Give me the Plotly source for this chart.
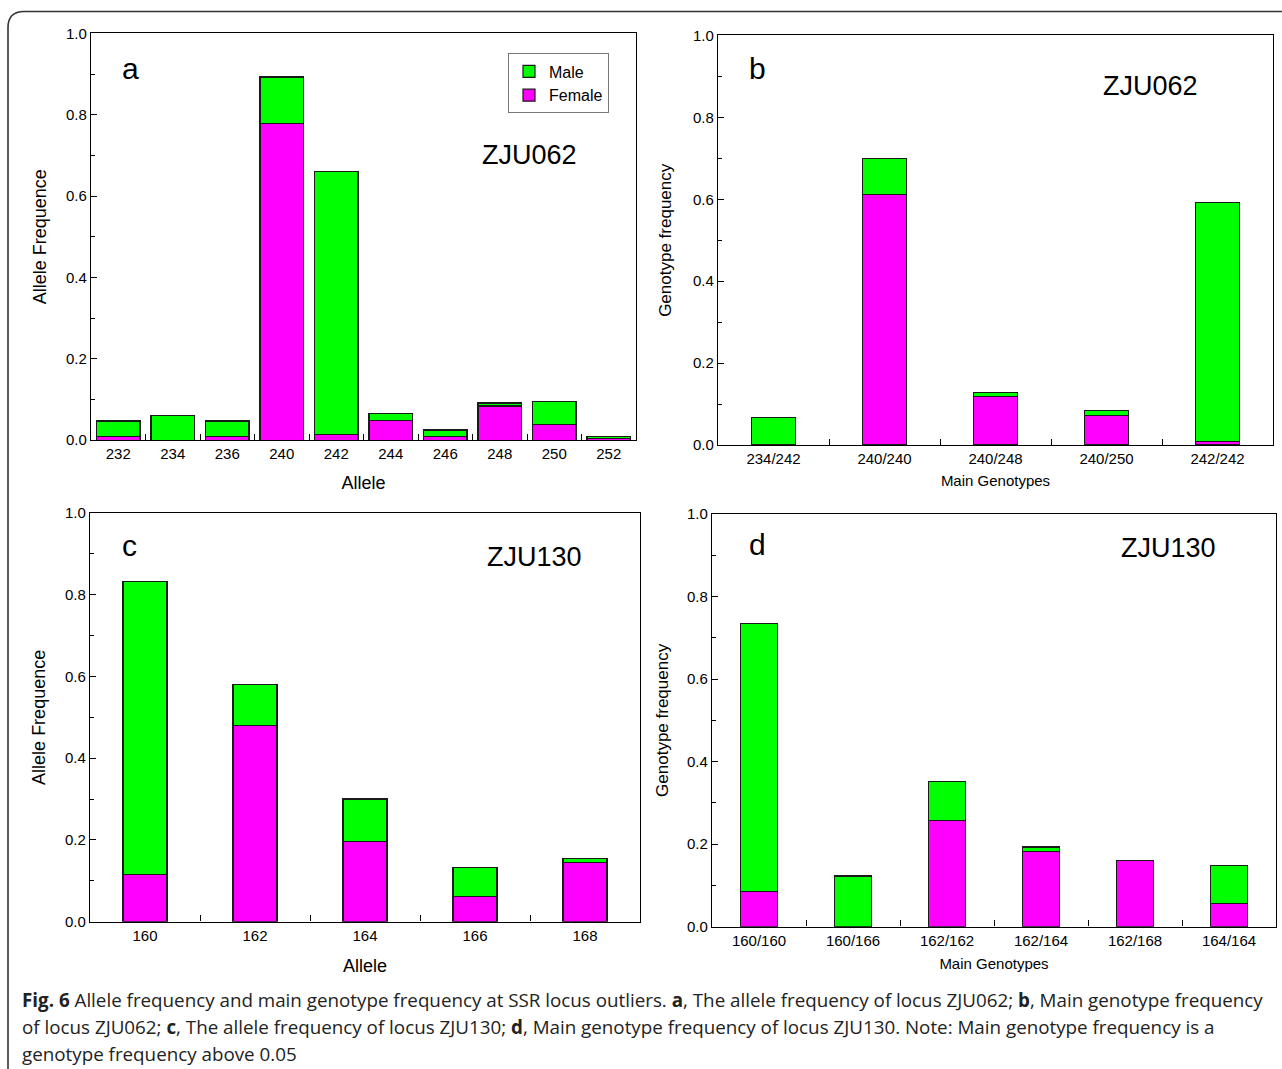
import plotly.graph_objects as go

W, H = 1282, 1069
# measured vertical mapping of the photographed page: shown_y = OY + SY * figure_y
SY = 0.985
OY = 8.5

# ---------------- data ----------------
alleles_a = ["232", "234", "236", "240", "242", "244", "246", "248", "250", "252"]
female_a = [0.009, 0.000, 0.009, 0.779, 0.013, 0.049, 0.009, 0.084, 0.039, 0.004]
male_a = [0.038, 0.060, 0.038, 0.114, 0.648, 0.017, 0.016, 0.007, 0.055, 0.005]

genotypes_b = ["234/242", "240/240", "240/248", "240/250", "242/242"]
female_b = [0.000, 0.611, 0.118, 0.072, 0.009]
male_b = [0.067, 0.088, 0.010, 0.012, 0.583]

alleles_c = ["160", "162", "164", "166", "168"]
female_c = [0.115, 0.480, 0.197, 0.061, 0.144]
male_c = [0.718, 0.100, 0.103, 0.072, 0.010]

genotypes_d = ["160/160", "160/166", "162/162", "162/164", "162/168", "164/164"]
female_d = [0.085, 0.000, 0.258, 0.182, 0.161, 0.056]
male_d = [0.649, 0.123, 0.093, 0.011, 0.000, 0.092]

ytick_vals = [0.0, 0.2, 0.4, 0.6, 0.8, 1.0]
ytick_text = ["0.0", "0.2", "0.4", "0.6", "0.8", "1.0"]

GREEN = "#00FF00"
MAGENTA = "#FF00FF"
FONT = "Liberation Sans, Arial, sans-serif"


def fx(px):
    return px / W


def fy(py):
    return 1 - ((py - OY) / SY) / H


panels = [
    dict(cats=alleles_a, fem=female_a, male=male_a, width=0.8,
         box=(91, 636, 33, 440), xtitle="Allele", xts=18, ytitle="Allele Frequence", yts=18,
         letter="a", letter_pos=(130, 68), locus="ZJU062", locus_pos=(529, 155), legend=True,
         xstand=15, ystand=14),
    dict(cats=genotypes_b, fem=female_b, male=male_b, width=0.4,
         box=(718, 1273, 35, 445), xtitle="Main Genotypes", xts=15, ytitle="Genotype frequency", yts=17,
         letter="b", letter_pos=(757, 68), locus="ZJU062", locus_pos=(1150, 86), legend=False,
         xstand=9, ystand=16),
    dict(cats=alleles_c, fem=female_c, male=male_c, width=0.4,
         box=(90, 640, 513, 922), xtitle="Allele", xts=18, ytitle="Allele Frequence", yts=18,
         letter="c", letter_pos=(129, 545), locus="ZJU130", locus_pos=(534, 557), legend=False,
         xstand=16, ystand=14),
    dict(cats=genotypes_d, fem=female_d, male=male_d, width=0.4,
         box=(712, 1276, 514, 927), xtitle="Main Genotypes", xts=15, ytitle="Genotype frequency", yts=17,
         letter="d", letter_pos=(757, 544), locus="ZJU130", locus_pos=(1168, 548), legend=False,
         xstand=10, ystand=13),
]

fig = go.Figure()
layout = dict(
    width=W, height=H,
    margin=dict(l=0, r=0, t=0, b=0),
    paper_bgcolor="white", plot_bgcolor="white",
    barmode="stack",
    font=dict(family=FONT, color="black"),
    showlegend=True,
    legend=dict(x=fx(609), xanchor="right", y=fy(53), yanchor="top",
                bordercolor="#777", borderwidth=1, bgcolor="white",
                font=dict(size=16, family=FONT), traceorder="reversed",
                tracegroupgap=0),
)
annotations = []

for i, p in enumerate(panels):
    n = i + 1
    xa = "x" if n == 1 else f"x{n}"
    ya = "y" if n == 1 else f"y{n}"
    x0, x1, y0, y1 = p["box"]
    fig.add_trace(go.Bar(x=p["cats"], y=p["fem"], name="Female", xaxis=xa, yaxis=ya,
                         width=p["width"], marker=dict(color=MAGENTA, line=dict(color="#1a1a1a", width=1.2)),
                         showlegend=p["legend"], legendgroup="Female"))
    fig.add_trace(go.Bar(x=p["cats"], y=p["male"], name="Male", xaxis=xa, yaxis=ya,
                         width=p["width"], marker=dict(color=GREEN, line=dict(color="#1a1a1a", width=1.2)),
                         showlegend=p["legend"], legendgroup="Male"))
    xkey = "xaxis" if n == 1 else f"xaxis{n}"
    ykey = "yaxis" if n == 1 else f"yaxis{n}"
    layout[xkey] = dict(
        domain=[fx(x0), fx(x1)], anchor=ya, type="category",
        range=[-0.5, len(p["cats"]) - 0.5],
        ticks="inside", tickson="boundaries", ticklen=6, tickwidth=1.3, tickcolor="black",
        showline=True, mirror=True, linecolor="black", linewidth=1.4,
        showgrid=False, zeroline=False,
        tickfont=dict(size=15, family=FONT),
        title=dict(text=p["xtitle"], font=dict(size=p["xts"], family=FONT), standoff=p["xstand"]),
    )
    layout[ykey] = dict(
        domain=[fy(y1), fy(y0)], anchor=xa,
        range=[0, 1.0], tickvals=ytick_vals, ticktext=ytick_text,
        ticks="inside", ticklen=6, tickwidth=1.3, tickcolor="black",
        minor=dict(dtick=0.1, ticks="inside", ticklen=4, tickcolor="black", showgrid=False),
        showline=True, mirror=True, linecolor="black", linewidth=1.4,
        showgrid=False, zeroline=False,
        tickfont=dict(size=15, family=FONT),
        title=dict(text=p["ytitle"], font=dict(size=p["yts"], family=FONT), standoff=p["ystand"]),
    )
    lx, ly = p["letter_pos"]
    annotations.append(dict(text=p["letter"], x=fx(lx), y=fy(ly), xref="paper", yref="paper",
                            showarrow=False, xanchor="center", yanchor="middle",
                            font=dict(size=30, family=FONT)))
    zx, zy = p["locus_pos"]
    annotations.append(dict(text=p["locus"], x=fx(zx), y=fy(zy), xref="paper", yref="paper",
                            showarrow=False, xanchor="center", yanchor="middle",
                            font=dict(size=27, family=FONT)))

caption_lines = [
    "<b>Fig. 6</b> Allele frequency and main genotype frequency at SSR locus outliers. <b>a</b>, The allele frequency of locus ZJU062; <b>b</b>, Main genotype frequency",
    "of locus ZJU062; <b>c</b>, The allele frequency of locus ZJU130; <b>d</b>, Main genotype frequency of locus ZJU130. Note: Main genotype frequency is a",
    "genotype frequency above 0.05",
]
cap_y = [1000, 1027, 1054]
for line, yy in zip(caption_lines, cap_y):
    annotations.append(dict(text=line, x=fx(20), y=fy(yy), xref="paper", yref="paper",
                            showarrow=False, xanchor="left", yanchor="middle",
                            font=dict(size=18.8, family="Open Sans, sans-serif", color="#222")))

layout["annotations"] = annotations


def P(x, y):
    return f"{fx(x):.5f},{fy(y):.5f}"


# rounded outer frame (top-left corner visible)
frame_path = f"M {P(1290, 11)} L {P(24, 11)} Q {P(8, 11)} {P(8, 27)} L {P(8, 1090)}"
layout["shapes"] = [dict(type="path", path=frame_path, xref="paper", yref="paper",
                         line=dict(color="#333", width=1.6))]

fig.update_layout(**layout)
fig.write_html(
    "out.html",
    config={"displayModeBar": False},
    post_script="document.body.style.margin='0';document.body.style.overflow='hidden';",
)
